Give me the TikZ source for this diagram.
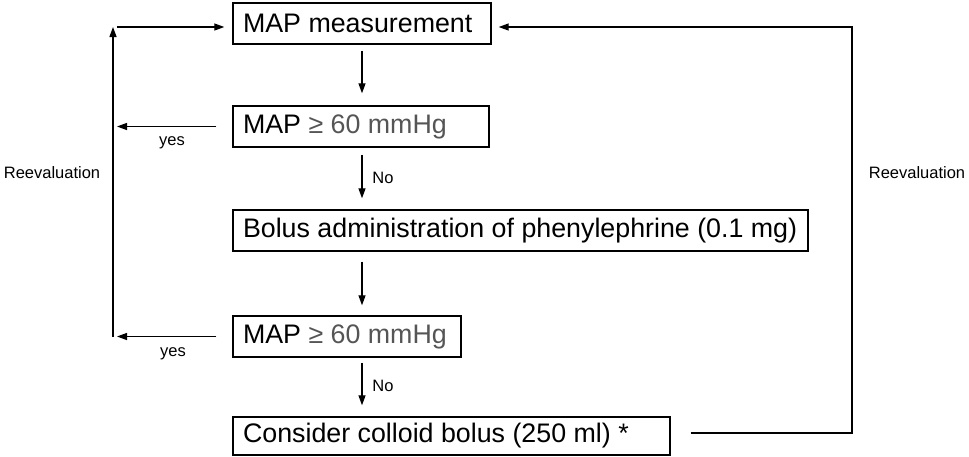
\documentclass[tikz,border=0pt]{standalone}
\usepackage{fontspec}
\setmainfont{Liberation Sans}
\usetikzlibrary{arrows.meta}
\definecolor{txtgray}{HTML}{555555}
\newcommand{\boxtext}[2]{\makebox[#1][l]{#2}}
\begin{document}
\begin{tikzpicture}[x=1pt,y=-1pt,
  box/.style={draw,line width=1.4pt,font=\fontsize{26.8}{30}\selectfont,inner xsep=10pt,inner ysep=0pt,minimum height=41pt},
  arr/.style={line width=1.3pt,-{Triangle[length=10pt,width=7pt]}},
  lbl/.style={font=\fontsize{16.5}{19}\selectfont,inner sep=0pt}]
\useasboundingbox (0,0) rectangle (969,456);
\node[box] (b1) at (362,23.5) {\boxtext{238pt}{MAP measurement}};
\node[box] (b2) at (361,126.5) {\boxtext{236pt}{MAP \textcolor{txtgray}{≥ 60 mmHg}}};
\node[box] (b3) at (520.5,230.5) {\boxtext{555pt}{Bolus administration of phenylephrine (0.1 mg)}};
\node[box] (b4) at (347,336.5) {\boxtext{208pt}{MAP \textcolor{txtgray}{≥ 60 mmHg}}};
\node[box,minimum height=38pt] (b5) at (451.5,436) {\boxtext{417pt}{Consider colloid bolus (250 ml) *}};
\coordinate (c) at (362,0);
\coordinate (lv) at (113,0);
\coordinate (lt) at (117,0);
% vertical flow
\draw[arr,shorten <=6pt,shorten >=12pt] (b1.south -| c) -- (b2.north -| c);
\draw[arr,shorten <=7pt,shorten >=11pt] (b2.south -| c) -- (b3.north -| c);
\draw[arr,shorten <=10pt,shorten >=10pt] (b3.south -| c) -- (b4.north -| c);
\draw[arr,shorten <=5pt,shorten >=11pt] (b4.south -| c) -- (b5.north -| c);
\node[lbl] (no1) at (383,178) {No};
\node[lbl] (no2) at (383,386) {No};
% yes arrows
\draw[arr,shorten <=16pt] (b2.west) -- (b2.west -| lt);
\draw[arr,shorten <=16pt] (b4.west) -- (b4.west -| lt);
\node[lbl] (yes1) at (172,143) {yes};
\node[lbl] (yes2) at (173,354) {yes};
% left reevaluation loop
\coordinate (lb) at (b4.west -| lv);
\coordinate (ltop) at (113,27);
\draw[arr] (lb) -- (ltop);
\coordinate (lh) at (117,27);
\draw[arr,shorten >=8pt] (lh) -- (lh -| b1.west);
\node[lbl] (re1) at (52,173) {Reevaluation};
% right reevaluation loop
\coordinate (rb) at (852,433);
\coordinate (rt) at (852,27);
\draw[arr,shorten >=7pt] ([xshift=20pt]b5.east |- rb) -- (rb) -- (rt) -- (rt -| b1.east);
\node[lbl] (re2) at (917,173) {Reevaluation};
\end{tikzpicture}
\end{document}
